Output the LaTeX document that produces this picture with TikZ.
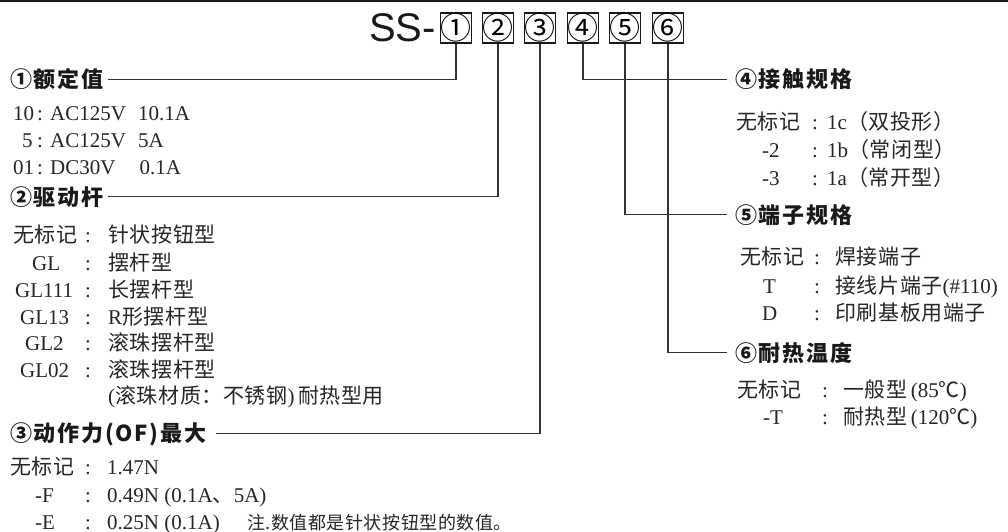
\documentclass[tikz,border=0pt]{standalone}
\usepackage{fontspec}
\setmainfont{Liberation Serif}
\newfontfamily\zh{Noto Sans CJK SC}[LetterSpace=3]
\newfontfamily\zhnum{Noto Sans CJK SC}
\newfontfamily\hdfont{Noto Sans CJK SC}[LetterSpace=8]
\newfontfamily\lsans{Liberation Sans}
\newcommand\bodyfs{\fontsize{21}{21}\selectfont}
% #1 name, #2 y, #3 key x, #4 key, #5 colon x, #6 value x, #7 value
\newcommand\specrow[7]{%
  \node[bodytxt] (#1k) at (#3,#2+7.5) {#4};
  \node[bodytxt,anchor=base] (#1c) at (#5,#2+7.5) {:};
  \node[bodytxt] (#1v) at (#6,#2+7.5) {#7};}
\begin{document}
\begin{tikzpicture}[x=1pt,y=-1pt,
  numbox/.style={draw=black!90,line width=1.4pt,minimum width=29.5pt,minimum height=30pt,inner sep=0pt,font=\zhnum\fontsize{31}{31}\selectfont},
  head/.style={anchor=base west,inner sep=0pt,font=\hdfont\bfseries\fontsize{22}{22}\selectfont,text=black!90},
  bodytxt/.style={anchor=base west,inner sep=0pt,font=\bodyfs,text=black!85},
  conn/.style={draw=black!80,line width=1.1pt}]
\useasboundingbox (0,0) rectangle (1008,532);
\fill[white] (0,0) rectangle (1008,532);
\draw[line width=1.6pt,black!90] (0,0.8) -- (1008,0.8);

% title and code boxes
\node[anchor=base east,inner sep=0pt,font=\lsans\fontsize{40}{40}\selectfont,text=black!90] (ss) at (436,42) {SS-};
\node[numbox] (b1) at (456,28) {①};
\node[numbox] (b2) at (498,28) {②};
\node[numbox] (b3) at (540,28) {③};
\node[numbox] (b4) at (583,28) {④};
\node[numbox] (b5) at (625,28) {⑤};
\node[numbox] (b6) at (668,28) {⑥};

% headings
\node[head] (h1) at (10,80+8) {①额定值};
\node[head] (h2) at (10,197+8) {②驱动杆};
\node[head] (h3) at (10,433+8) {③动作力(OF)最大};
\node[head] (h4) at (735,80+8) {④接触规格};
\node[head] (h5) at (735,215+8) {⑤端子规格};
\node[head] (h6) at (735,353+8) {⑥耐热温度};

% connectors
\draw[conn] (b1.south) |- ([xshift=4pt]h1.east);
\draw[conn] (b2.south) |- ([xshift=4pt]h2.east);
\draw[conn] (b3.south) |- ([xshift=10pt]h3.east);
\draw[conn] (b4.south) |- ([xshift=-8pt]h4.west);
\draw[conn] (b5.south) |- ([xshift=-8pt]h5.west);
\draw[conn] (b6.south) |- ([xshift=-8pt]h6.west);

% block 1
\specrow{ra}{113}{13}{10}{40}{50}{AC125V\hspace{12pt}10.1A}
\specrow{rb}{140}{22}{5}{40}{50}{AC125V\hspace{12pt}5A}
\specrow{rc}{167}{13}{01}{40}{50}{DC30V\hspace{24pt}0.1A}

% block 2
\specrow{sa}{235}{13}{{\zh 无标记}}{88}{108}{{\zh 针状按钮型}}
\specrow{sb}{263}{32}{GL}{88}{108}{{\zh 摆杆型}}
\specrow{sc}{290}{15}{GL111}{88}{108}{{\zh 长摆杆型}}
\specrow{sd}{317}{20}{GL13}{88}{108}{R{\zh 形摆杆型}}
\specrow{se}{343}{25}{GL2}{88}{108}{{\zh 滚珠摆杆型}}
\specrow{sf}{370}{20}{GL02}{88}{108}{{\zh 滚珠摆杆型}}
\node[bodytxt] (sgv) at (108,396+7.5) {({\zh 滚珠材质：不锈钢})\,{\zh 耐热型用}};

% block 3
\specrow{ta}{467}{10}{{\zh 无标记}}{88}{107}{1.47N}
\specrow{tb}{495}{35}{-F}{88}{107}{0.49N (0.1A{\zh 、}5A)}
\specrow{tc}{522}{35}{-E}{88}{107}{0.25N (0.1A)}
\node[bodytxt,font=\zh\fontsize{18}{18}\selectfont] (note) at (247,522+7) {注.数值都是针状按钮型的数值。};

% block 4
\specrow{ua}{122}{736}{{\zh 无标记}}{815}{827}{1c{\zh （双投形）}}
\specrow{ub}{150}{762}{-2}{815}{827}{1b{\zh （常闭型）}}
\specrow{uc}{178}{762}{-3}{815}{827}{1a{\zh （常开型）}}

% block 5
\specrow{va}{257}{740}{{\zh 无标记}}{817}{835}{{\zh 焊接端子}}
\specrow{vb}{286}{763}{T}{817}{835}{{\zh 接线片端子}(\#110)}
\specrow{vc}{313}{762}{D}{817}{835}{{\zh 印刷基板用端子}}

% block 6
\specrow{wa}{390}{737}{{\zh 无标记}}{825}{843}{{\zh 一般型}\,(85{\zh ℃})}
\specrow{wb}{417}{763}{-T}{825}{843}{{\zh 耐热型}\,(120{\zh ℃})}
\end{tikzpicture}
\end{document}
